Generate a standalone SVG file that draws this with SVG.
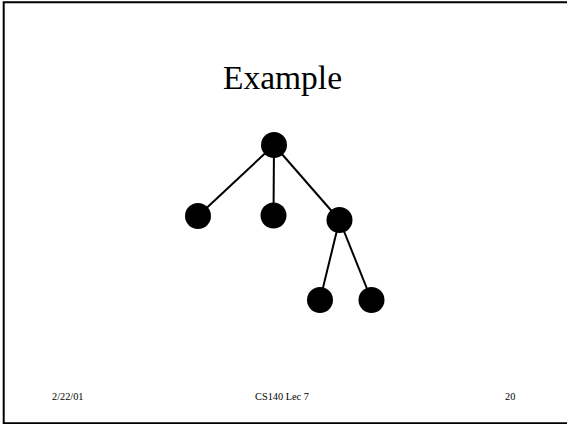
<svg xmlns="http://www.w3.org/2000/svg" width="567" height="424" viewBox="0 0 567 424">
<style>
.n{fill:#000}
.e{stroke:#000;stroke-width:2;fill:none}
.t{font-family:"Liberation Serif",serif;fill:#000}
.f{font-size:10.3px}
</style>
<rect x="0" y="0" width="567" height="424" fill="#fff"/>
<path d="M568 2.2H3.7V423.2H568" fill="none" stroke="#000" stroke-width="2"/>
<text class="t" x="282.5" y="89" font-size="33.5" text-anchor="middle">Example</text>
<g id="edges">
<line class="e" x1="274" y1="145" x2="198" y2="216"/>
<line class="e" x1="274" y1="145" x2="273.5" y2="215.5"/>
<line class="e" x1="274" y1="145" x2="339.5" y2="220"/>
<line class="e" x1="339.5" y1="220" x2="320" y2="300"/>
<line class="e" x1="339.5" y1="220" x2="371.5" y2="300"/>
</g>
<g id="root"><circle class="n" cx="274" cy="145" r="13"/></g>
<g id="c1"><circle class="n" cx="198" cy="216" r="13"/></g>
<g id="c2"><circle class="n" cx="273.5" cy="215.5" r="13"/></g>
<g id="c3"><circle class="n" cx="339.5" cy="220" r="13"/></g>
<g id="c4"><circle class="n" cx="320" cy="300" r="13"/></g>
<g id="c5"><circle class="n" cx="371.5" cy="300" r="13"/></g>
<text class="t f" x="52" y="400">2/22/01</text>
<text class="t f" x="282" y="400" text-anchor="middle">CS140 Lec 7</text>
<text class="t f" x="505" y="400">20</text>
</svg>
